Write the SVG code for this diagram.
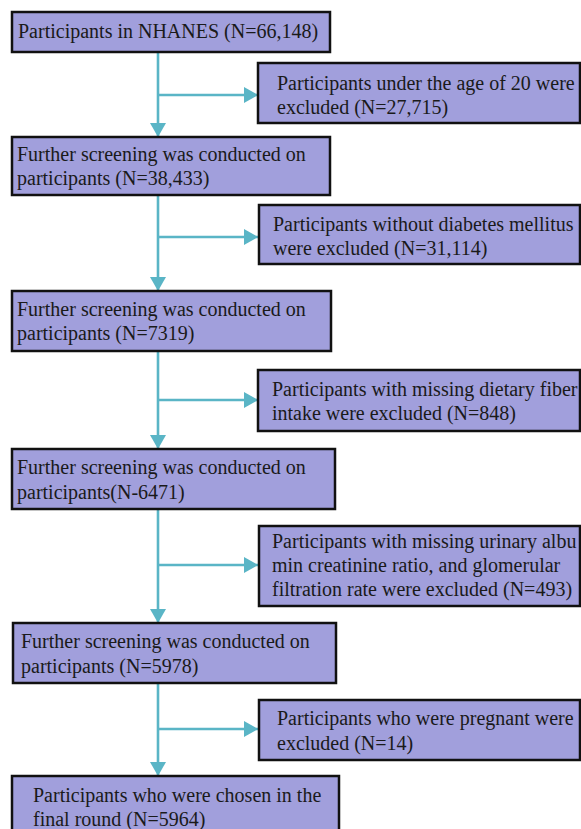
<svg xmlns="http://www.w3.org/2000/svg" width="581" height="829" viewBox="0 0 581 829">
<style>
.box{fill:#a19fdc;stroke:#111;stroke-width:2.5}
.t{font-family:"Liberation Serif","Times New Roman",serif;font-size:20px;fill:#1a1a1a}
.c{stroke:#5ab5c6;stroke-width:2.6;fill:none}
</style>
<defs>
<marker id="ah" viewBox="0 0 14 16" refX="14" refY="8" markerWidth="14" markerHeight="16" markerUnits="userSpaceOnUse" orient="auto">
<path d="M0,0 L14,8 L0,16 Z" fill="#5ab5c6"/>
</marker>
</defs>
<rect width="581" height="829" fill="#fff"/>
<g id="connectors">
<line class="c" x1="158" y1="52" x2="158" y2="137" marker-end="url(#ah)"/>
<line class="c" x1="158" y1="95" x2="258" y2="95" marker-end="url(#ah)"/>
<line class="c" x1="158" y1="195" x2="158" y2="291" marker-end="url(#ah)"/>
<line class="c" x1="158" y1="237" x2="258" y2="237" marker-end="url(#ah)"/>
<line class="c" x1="158" y1="351" x2="158" y2="449" marker-end="url(#ah)"/>
<line class="c" x1="158" y1="400" x2="258" y2="400" marker-end="url(#ah)"/>
<line class="c" x1="158" y1="509" x2="158" y2="623" marker-end="url(#ah)"/>
<line class="c" x1="158" y1="565" x2="258" y2="565" marker-end="url(#ah)"/>
<line class="c" x1="158" y1="683" x2="158" y2="776" marker-end="url(#ah)"/>
<line class="c" x1="158" y1="729" x2="258" y2="729" marker-end="url(#ah)"/>
</g>
<g id="n1">
<rect class="box" x="12" y="12" width="318" height="40"/>
<text class="t" x="18" y="38">Participants in NHANES (N=66,148)</text>
</g>
<g id="r1">
<rect class="box" x="258" y="63" width="322" height="60"/>
<text class="t" x="277" y="90">Participants under the age of 20 were</text>
<text class="t" x="277" y="114">excluded (N=27,715)</text>
</g>
<g id="n2">
<rect class="box" x="12" y="137" width="318" height="58"/>
<text class="t" x="17" y="161">Further screening was conducted on</text>
<text class="t" x="17" y="185">participants (N=38,433)</text>
</g>
<g id="r2">
<rect class="box" x="259" y="205" width="321" height="59"/>
<text class="t" x="273" y="231">Participants without diabetes mellitus</text>
<text class="t" x="273" y="255">were excluded (N=31,114)</text>
</g>
<g id="n3">
<rect class="box" x="12" y="291" width="319" height="60"/>
<text class="t" x="17" y="316">Further screening was conducted on</text>
<text class="t" x="17" y="340">participants (N=7319)</text>
</g>
<g id="r3">
<rect class="box" x="258" y="370" width="322" height="61"/>
<text class="t" x="272" y="396">Participants with missing dietary fiber</text>
<text class="t" x="272" y="420">intake were excluded (N=848)</text>
</g>
<g id="n4">
<rect class="box" x="12" y="449" width="323" height="60"/>
<text class="t" x="17" y="474">Further screening was conducted on</text>
<text class="t" x="17" y="499">participants(N-6471)</text>
</g>
<g id="r4">
<rect class="box" x="259" y="526" width="321" height="80"/>
<text class="t" x="272" y="548">Participants with missing urinary albu</text>
<text class="t" x="272" y="572">min creatinine ratio, and glomerular</text>
<text class="t" x="272" y="596">filtration rate were excluded (N=493)</text>
</g>
<g id="n5">
<rect class="box" x="13" y="623" width="323" height="60"/>
<text class="t" x="21" y="648">Further screening was conducted on</text>
<text class="t" x="21" y="673">participants (N=5978)</text>
</g>
<g id="r5">
<rect class="box" x="259" y="700" width="321" height="60"/>
<text class="t" x="277" y="725">Participants who were pregnant were</text>
<text class="t" x="277" y="750">excluded (N=14)</text>
</g>
<g id="n6">
<rect class="box" x="12" y="776" width="327" height="70"/>
<text class="t" x="33" y="802">Participants who were chosen in the</text>
<text class="t" x="33" y="826">final round (N=5964)</text>
</g>
</svg>
